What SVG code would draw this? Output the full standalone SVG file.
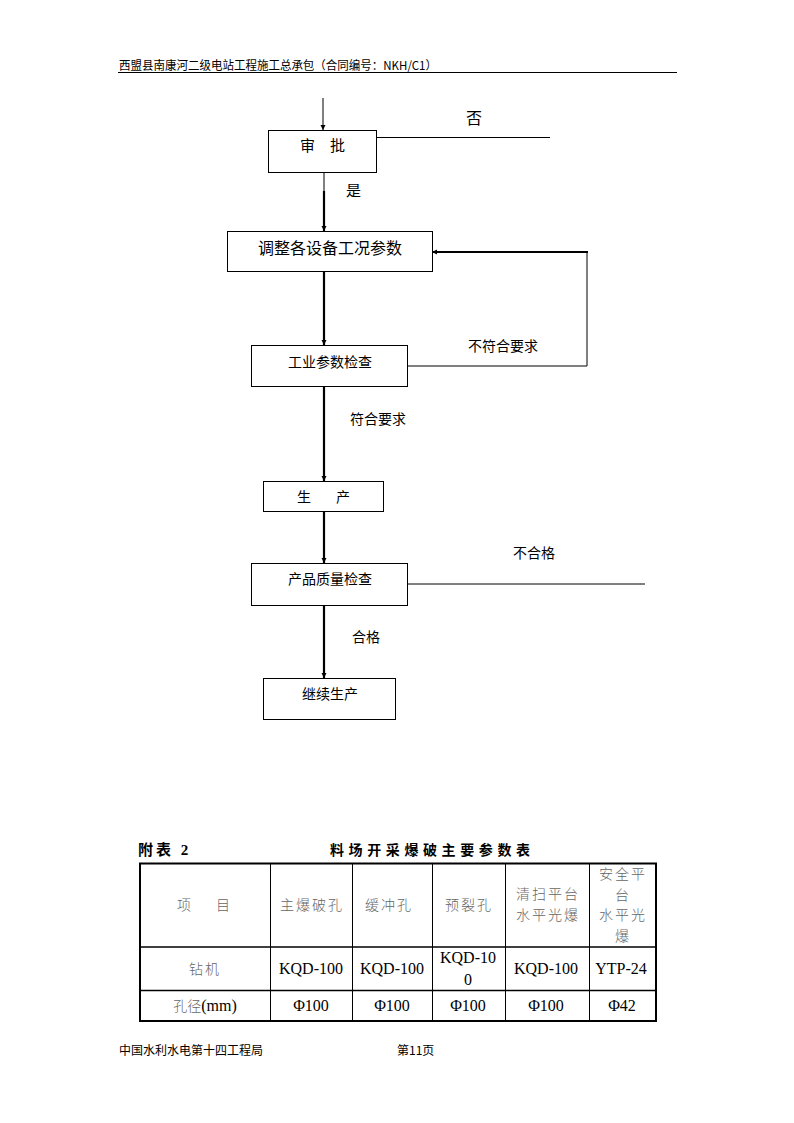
<svg xmlns="http://www.w3.org/2000/svg" width="794" height="1123" viewBox="0 0 794 1123">
<defs>
<style>
.t{font-family:"Noto Sans CJK SC","Liberation Sans",sans-serif;fill:#000}
.box{fill:#fff;stroke:#000;stroke-width:1}
.ln{stroke:#000;stroke-width:1;fill:none}
.th{stroke:#000;stroke-width:2.2;fill:none}
.tc{font-family:"Noto Sans CJK SC",sans-serif;fill:#666;font-size:14px;letter-spacing:2px;text-anchor:middle;font-weight:300}
.tn{font-family:"Liberation Serif","Noto Sans CJK SC",serif;fill:#000;font-size:16px;text-anchor:middle}
.grid{stroke:#000;stroke-width:1}
</style>
<marker id="ar" markerWidth="6" markerHeight="6" refX="5" refY="3" orient="auto" markerUnits="userSpaceOnUse">
<path d="M0,0.5 L5,3 L0,5.5 Z" fill="#000"/>
</marker>
</defs>
<rect width="794" height="1123" fill="#fff"/>

<g id="header">
<text class="t" x="119" y="70" font-size="12" textLength="318" lengthAdjust="spacingAndGlyphs">西盟县南康河二级电站工程施工总承包（合同编号：NKH/C1）</text>
<line x1="118" y1="72.5" x2="677" y2="72.5" stroke="#000" stroke-width="1"/>
</g>

<g id="connectors">
<line class="ln" x1="323" y1="98" x2="323" y2="130" marker-end="url(#ar)"/>
<line class="ln" x1="376" y1="137.5" x2="550" y2="137.5"/>
<line class="ln" x1="324" y1="172" x2="324" y2="192"/>
<line class="th" x1="324" y1="191" x2="324" y2="231" marker-end="url(#ar)"/>
<line class="th" x1="324" y1="271" x2="324" y2="345" marker-end="url(#ar)"/>
<polyline class="ln" points="407,366 587,366 587,252"/>
<line class="th" x1="588" y1="252" x2="432" y2="252" marker-end="url(#ar)"/>
<line class="th" x1="324" y1="387" x2="324" y2="481" marker-end="url(#ar)"/>
<line class="th" x1="324" y1="511" x2="324" y2="563" marker-end="url(#ar)"/>
<line class="ln" x1="407" y1="584" x2="645" y2="584"/>
<line class="th" x1="324" y1="605" x2="324" y2="678" marker-end="url(#ar)"/>
<text class="t" x="466" y="124" font-size="16">否</text>
<text class="t" x="346" y="196" font-size="15">是</text>
<text class="t" x="468" y="351" font-size="14">不符合要求</text>
<text class="t" x="350" y="424" font-size="14">符合要求</text>
<text class="t" x="513" y="558" font-size="14">不合格</text>
<text class="t" x="352" y="642" font-size="14">合格</text>
</g>

<g id="n-shenpi">
<rect class="box" x="268.5" y="130.5" width="108" height="42"/>
<text class="t" x="300" y="151" font-size="15">审</text>
<text class="t" x="330" y="151" font-size="15">批</text>
</g>
<g id="n-tiaozheng">
<rect class="box" x="227.5" y="231.5" width="205" height="40"/>
<text class="t" x="330" y="254" font-size="16" text-anchor="middle">调整各设备工况参数</text>
</g>
<g id="n-gongye">
<rect class="box" x="251.5" y="345.5" width="156" height="41"/>
<text class="t" x="330" y="367" font-size="14" text-anchor="middle">工业参数检查</text>
</g>
<g id="n-shengchan">
<rect class="box" x="263.5" y="481.5" width="120" height="30"/>
<text class="t" x="297" y="502" font-size="14">生</text>
<text class="t" x="336" y="502" font-size="14">产</text>
</g>
<g id="n-zhiliang">
<rect class="box" x="251.5" y="563.5" width="156" height="42"/>
<text class="t" x="330" y="584" font-size="14" text-anchor="middle">产品质量检查</text>
</g>
<g id="n-jixu">
<rect class="box" x="263.5" y="678.5" width="132" height="41"/>
<text class="t" x="330" y="699" font-size="14" text-anchor="middle">继续生产</text>
</g>

<g id="table">
<text x="138" y="855" font-family="Liberation Serif,'Noto Sans CJK SC',serif" font-weight="bold" font-size="15" letter-spacing="3">附表 2</text>
<text x="330" y="855" font-family="'Noto Sans CJK SC',serif" font-weight="bold" font-size="14" letter-spacing="4.6">料场开采爆破主要参数表</text>
<rect x="140" y="863.5" width="516" height="157.5" fill="none" stroke="#000" stroke-width="2"/>
<line class="grid" x1="270.5" y1="864" x2="270.5" y2="1021"/>
<line class="grid" x1="352.5" y1="864" x2="352.5" y2="1021"/>
<line class="grid" x1="432.5" y1="864" x2="432.5" y2="1021"/>
<line class="grid" x1="505.5" y1="864" x2="505.5" y2="1021"/>
<line class="grid" x1="589.5" y1="864" x2="589.5" y2="1021"/>
<line x1="140" y1="947" x2="656" y2="947" stroke="#000" stroke-width="1.5"/>
<line x1="140" y1="990.5" x2="656" y2="990.5" stroke="#000" stroke-width="1.5"/>

<text class="tc" x="204" y="910" letter-spacing="0"><tspan x="185">项</tspan><tspan x="224">目</tspan></text>
<text class="tc" x="312" y="910">主爆破孔</text>
<text class="tc" x="389" y="910">缓冲孔</text>
<text class="tc" x="469" y="910">预裂孔</text>
<text class="tc" x="548" y="899">清扫平台</text>
<text class="tc" x="548" y="920">水平光爆</text>
<text class="tc" x="623" y="879">安全平</text>
<text class="tc" x="623" y="900">台</text>
<text class="tc" x="623" y="920">水平光</text>
<text class="tc" x="623" y="941">爆</text>

<text class="tc" x="205" y="974">钻机</text>
<text class="tn" x="311" y="974">KQD-100</text>
<text class="tn" x="392" y="974">KQD-100</text>
<text class="tn" x="468" y="963">KQD-10</text>
<text class="tn" x="468" y="985">0</text>
<text class="tn" x="546" y="974">KQD-100</text>
<text class="tn" x="621" y="974">YTP-24</text>

<text x="205" y="1011" text-anchor="middle" font-size="16"><tspan font-family="'Noto Sans CJK SC',sans-serif" fill="#666" font-weight="300" font-size="14">孔径</tspan><tspan font-family="Liberation Serif,serif" fill="#000">(mm)</tspan></text>
<text class="tn" x="311" y="1011">Φ100</text>
<text class="tn" x="392" y="1011">Φ100</text>
<text class="tn" x="468" y="1011">Φ100</text>
<text class="tn" x="546" y="1011">Φ100</text>
<text class="tn" x="622" y="1011">Φ42</text>
</g>

<g id="footer">
<text class="t" x="119" y="1055" font-size="12">中国水利水电第十四工程局</text>
<text class="t" x="397" y="1055" font-size="12">第11页</text>
</g>
</svg>
